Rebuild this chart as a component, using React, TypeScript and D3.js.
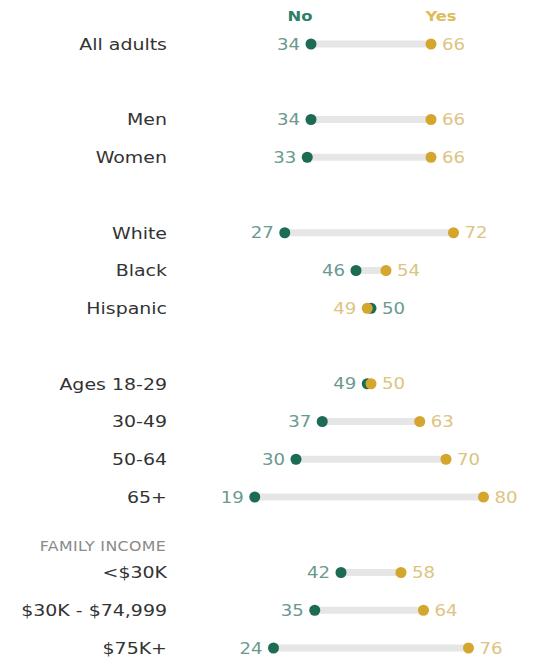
import React from "react";
import * as d3 from "d3";

const categories = ["All adults", "Men", "Women", "White", "Black", "Hispanic", "Ages 18-29", "30-49", "50-64", "65+", "<$30K", "$30K - $74,999", "$75K+"];
const noValues = [34, 34, 33, 27, 46, 50, 49, 37, 30, 19, 42, 35, 24];
const yesValues = [66, 66, 66, 72, 54, 49, 50, 63, 70, 80, 58, 64, 76];
const rowSlots = [0, 2, 3, 5, 6, 7, 9, 10, 11, 12, 14, 15, 16];
const sectionLabel = "FAMILY INCOME";
const sectionSlot = 13.3;

const W = 534;
const H = 663;
const NO_DOT = "#1c6b54";
const YES_DOT = "#d4a62e";
const NO_TEXT = "#6a9a8e";
const YES_TEXT = "#dcc482";
const SX = 1.17;
const FONT = "'DejaVu Sans', Verdana, sans-serif";

export default function App() {
  const x = d3.scaleLinear().domain([0, 100]).range([183.5, 558.5]);
  const y = d3.scaleLinear().domain([0, 16]).range([44, 648]);
  const r = 5.5;

  const T = (props: any) => {
    const { x: tx, y: ty, children, ...rest } = props;
    return (
      <text transform={`translate(${tx},${ty}) scale(${SX},1)`} fontFamily={FONT} {...rest}>
        {children}
      </text>
    );
  };

  return (
    <svg width={W} height={H} style={{ position: "absolute", left: 0, top: 0, background: "#fff" }}>
      <T x={x(34) - 11} y={16} dy="0.35em" textAnchor="middle" fontSize={14} fontWeight="bold" fill="#2e7f66">No</T>
      <T x={x(66) + 10} y={16} dy="0.35em" textAnchor="middle" fontSize={14} fontWeight="bold" fill="#dcbd5c">Yes</T>
      <T x={166} y={y(sectionSlot)} dy="0.35em" textAnchor="end" fontSize={13.5} letterSpacing={0.3} fill="#8a8a8a">{sectionLabel}</T>
      {categories.map((c, i) => {
        const cy = y(rowSlots[i]);
        const n = noValues[i];
        const v = yesValues[i];
        const lo = Math.min(n, v);
        const hi = Math.max(n, v);
        const noLeft = n <= v;
        return (
          <g key={c}>
            <T x={167} y={cy} dy="0.36em" textAnchor="end" fontSize={16.2} fill="#333">{c}</T>
            <rect x={x(lo)} y={cy - 3.5} width={x(hi) - x(lo)} height={7} fill="#e6e6e6" />
            <circle cx={x(n)} cy={cy} r={r} fill={NO_DOT} />
            <circle cx={x(v)} cy={cy} r={r} fill={YES_DOT} />
            <T x={noLeft ? x(n) - 11 : x(n) + 11} y={cy} dy="0.36em" textAnchor={noLeft ? "end" : "start"} fontSize={15.5} fill={NO_TEXT}>{n}</T>
            <T x={noLeft ? x(v) + 11 : x(v) - 11} y={cy} dy="0.36em" textAnchor={noLeft ? "start" : "end"} fontSize={15.5} fill={YES_TEXT}>{v}</T>
          </g>
        );
      })}
    </svg>
  );
}
